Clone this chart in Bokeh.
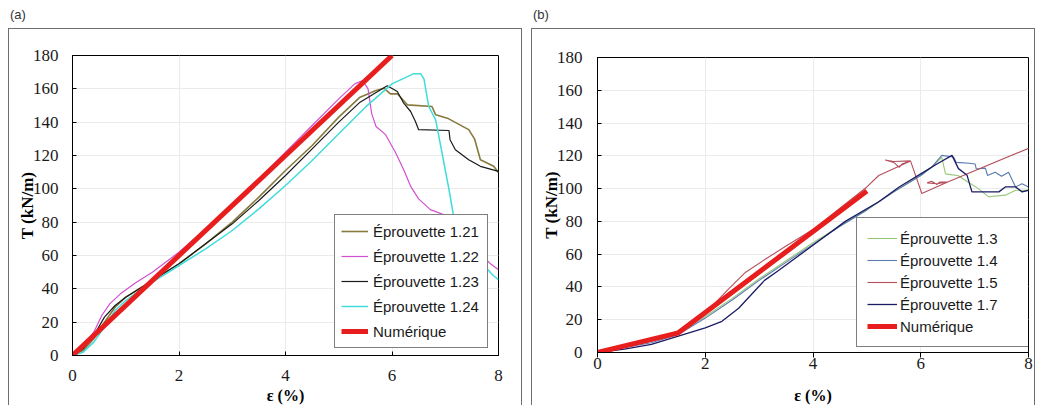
from bokeh.plotting import figure
from bokeh.models import Div, Legend, LegendItem, FixedTicker
from bokeh.layouts import row, column
from bokeh.embed import file_html
from bokeh.resources import INLINE

# ---------------- Panel (a) data ----------------
x121 = [0, 0.2, 0.4, 0.6, 0.8, 1.0, 1.3, 1.6, 2.0, 2.5, 3.0, 3.5, 4.0, 4.5, 5.0, 5.4, 5.7, 5.85, 5.97, 6.1, 6.29, 6.75, 6.82, 7.04, 7.44, 7.55, 7.66, 7.91, 8.0]
y121 = [0, 3, 10, 20, 29, 35, 41, 47, 55, 67, 80, 95, 111, 126, 143, 155, 159, 160.4, 157, 157, 150.4, 149.4, 144.4, 142.4, 135.5, 130, 117.5, 113.5, 109.7]

x122 = [0, 0.2, 0.4, 0.55, 0.7, 0.9, 1.2, 1.5, 2.0, 2.5, 3.0, 3.5, 4.0, 4.5, 5.0, 5.3, 5.45, 5.55, 5.62, 5.7, 5.88, 6.07, 6.22, 6.35, 6.5, 6.72, 6.97, 7.4, 7.85, 8.0]
y122 = [0, 5, 14, 24, 31, 37, 44, 50, 62, 76, 90, 106, 122, 138, 154, 163, 165, 160, 145, 137.4, 132.5, 121.5, 111.5, 101.5, 94, 87.5, 84.5, 70, 55, 51.5]

x123 = [0, 0.2, 0.4, 0.6, 0.8, 1.0, 1.3, 1.6, 2.0, 2.5, 3.0, 3.5, 4.0, 4.5, 5.0, 5.4, 5.91, 6.1, 6.22, 6.35, 6.44, 6.5, 7.07, 7.09, 7.19, 7.44, 7.66, 8.0]
y123 = [0, 4, 12, 23, 30, 35, 41, 47, 55, 67, 79, 93, 108, 124, 140, 152, 161.8, 158.4, 151.4, 146.4, 140.4, 135.5, 135, 129.5, 123.5, 117.5, 113.5, 110.5]

x124 = [0, 0.2, 0.4, 0.6, 0.8, 1.0, 1.3, 1.6, 2.0, 2.5, 3.0, 3.5, 4.0, 4.5, 5.0, 5.5, 6.0, 6.4, 6.54, 6.6, 6.69, 6.82, 6.94, 7.07, 7.16, 7.4, 7.7, 7.9, 8.0]
y124 = [0, 2, 8, 17, 27, 33, 40, 46, 54, 64, 75, 88, 102, 117, 133, 149, 163, 169, 169, 166, 149.4, 141.4, 121.5, 99.6, 83, 68, 55, 48, 45.5]

xnum_a = [0, 6.0]
ynum_a = [0, 180]

# ---------------- Panel (b) data ----------------
x13 = [0, 0.5, 1.0, 1.5, 2.0, 2.5, 3.0, 3.5, 4.0, 4.5, 5.0, 5.5, 6.0, 6.2, 6.39, 6.46, 6.7, 6.83, 7.07, 7.26, 7.57, 7.76, 8.0]
y13 = [0, 3, 7, 12, 22, 33, 45, 56, 67, 77, 87, 98, 108, 113, 119, 109, 107.8, 105, 100, 95, 96, 99, 99]

x14 = [0, 0.5, 1.0, 1.5, 2.0, 2.5, 3.0, 3.5, 4.0, 4.5, 5.0, 5.5, 6.0, 6.2, 6.39, 6.61, 6.66, 6.9, 7.01, 7.03, 7.2, 7.24, 7.38, 7.5, 7.63, 7.76, 7.88, 8.0]
y14 = [0, 3, 6, 11, 21, 32, 44, 55, 66, 77, 87, 98, 108, 113, 120.3, 119.3, 116, 115.5, 115, 112, 112.5, 108, 110, 107.5, 110, 101, 103, 101]

x15 = [0, 0.5, 1.0, 1.5, 2.0, 2.44, 2.75, 3.12, 3.5, 4.0, 4.5, 5.0, 5.22, 5.81, 5.5, 5.34, 5.5, 5.6, 5.65, 5.81, 6.02, 6.5, 6.3, 6.12, 6.2, 6.3, 6.35, 6.5, 8.06]
y15 = [0, 4, 8, 13, 24, 39, 49, 57, 65, 75, 88, 101, 108, 116.9, 116.5, 117.5, 116, 113, 115, 116.9, 97, 104, 103, 103.5, 104.5, 102.5, 104, 104, 125.4]

x17 = [0, 0.5, 1.0, 1.5, 2.0, 2.31, 2.62, 2.93, 3.1, 3.36, 3.98, 4.6, 5.22, 5.6, 6.0, 6.3, 6.58, 6.7, 6.86, 6.95, 7.45, 7.57, 7.76, 7.88, 8.0]
y17 = [0, 2, 5, 10, 15, 19, 27, 38, 44, 50, 65, 80, 92, 101, 109, 115, 120.3, 112.2, 108.1, 98, 98, 101, 101, 98, 99]

xnum_b = [0, 1.5, 5.0]
ynum_b = [0, 12, 98.5]

x_ticks = [0, 2, 4, 6, 8]
y_ticks = [0, 20, 40, 60, 80, 100, 120, 140, 160, 180]

SERIF = "'Liberation Serif', 'Times New Roman', serif"
SANS = "'Liberation Sans', Arial, sans-serif"


def make_fig(width, height, left, right, top, bottom,
             xt_in, xt_out, xtick_standoff, xlabel_standoff, ytick_standoff):
    p = figure(width=width, height=height, x_range=(0, 8), y_range=(0, 180),
               output_backend="svg", toolbar_location=None,
               min_border_left=left, min_border_right=right,
               min_border_top=top, min_border_bottom=bottom,
               background_fill_color="white", border_fill_color="white")
    p.margin = 0
    p.outline_line_color = "black"
    p.outline_line_width = 1
    p.xaxis.ticker = FixedTicker(ticks=x_ticks)
    p.yaxis.ticker = FixedTicker(ticks=y_ticks)
    p.xgrid.grid_line_color = "#ebebeb"
    p.ygrid.grid_line_color = "#ebebeb"
    for ax in (p.xaxis[0], p.yaxis[0]):
        ax.axis_line_color = "black"
        ax.major_tick_line_color = "black"
        ax.minor_tick_line_color = None
        ax.major_label_text_font = SERIF
        ax.major_label_text_font_size = "17px"
        ax.major_label_text_color = "#1a1a1a"
        ax.axis_label_text_font = SERIF
        ax.axis_label_text_font_style = "bold"
        ax.axis_label_text_color = "black"
    p.yaxis.major_tick_in = 4
    p.yaxis.major_tick_out = 0
    p.xaxis.major_tick_in = xt_in
    p.xaxis.major_tick_out = xt_out
    p.yaxis.axis_label = "T (kN/m)"
    p.yaxis.axis_label_text_font_size = "17px"
    p.yaxis.major_label_standoff = ytick_standoff
    p.yaxis.axis_label_standoff = -7
    p.xaxis.axis_label = "ε (%)"
    p.xaxis.axis_label_text_font_size = "16px"
    p.xaxis.major_label_standoff = xtick_standoff
    p.xaxis.axis_label_standoff = xlabel_standoff
    return p


def style_legend(lg):
    lg.border_line_color = "black"
    lg.border_line_width = 1
    lg.background_fill_color = "white"
    lg.background_fill_alpha = 1
    lg.label_text_font = SANS
    lg.label_text_font_size = "15px"
    lg.label_text_color = "#1a1a1a"
    lg.label_height = 20
    lg.glyph_height = 20
    lg.margin = 0


BORDER = {"border-top": "1px solid #6e6e6e", "border-left": "1px solid #6e6e6e",
          "border-right": "1px solid #6e6e6e"}

# ---------------- Panel (a) ----------------
pa = make_fig(514, 377, 63, 25, 26, 50, 4, 0, 14, 3, 14)
pa.styles = BORDER
ra1 = pa.line(x121, y121, line_color="#877a3e", line_width=1.6)
ra2 = pa.line(x122, y122, line_color="#d050d0", line_width=1.2)
ra3 = pa.line(x123, y123, line_color="#1a1a1a", line_width=1.2)
ra4 = pa.line(x124, y124, line_color="#40dcdc", line_width=1.5)
ra5 = pa.line(xnum_a, ynum_a, line_color="#e81e1e", line_width=5)
lga = Legend(items=[LegendItem(label="Éprouvette 1.21", renderers=[ra1]),
                    LegendItem(label="Éprouvette 1.22", renderers=[ra2]),
                    LegendItem(label="Éprouvette 1.23", renderers=[ra3]),
                    LegendItem(label="Éprouvette 1.24", renderers=[ra4]),
                    LegendItem(label="Numérique", renderers=[ra5])],
             location=(262, 7))
style_legend(lga)
lga.padding = 6
lga.spacing = 5
lga.glyph_width = 27
lga.label_standoff = 5
lga.label_width = 108
pa.add_layout(lga)

# ---------------- Panel (b) ----------------
pb = make_fig(504, 377, 65, 8, 28, 53, 0, 5, 0, 15, 15)
pb.styles = BORDER
rb1 = pb.line(x13, y13, line_color="#96c878", line_width=1.1)
rb2 = pb.line(x14, y14, line_color="#5a7ab0", line_width=1.1)
rb3 = pb.line(x15, y15, line_color="#b4505e", line_width=1.1)
rb4 = pb.line(x17, y17, line_color="#1c1c64", line_width=1.3)
rb5 = pb.line(xnum_b, ynum_b, line_color="#e81e1e", line_width=5)
lgb = Legend(items=[LegendItem(label="Éprouvette 1.3", renderers=[rb1]),
                    LegendItem(label="Éprouvette 1.4", renderers=[rb2]),
                    LegendItem(label="Éprouvette 1.5", renderers=[rb3]),
                    LegendItem(label="Éprouvette 1.7", renderers=[rb4]),
                    LegendItem(label="Numérique", renderers=[rb5])],
             location=(259, 5))
style_legend(lgb)
lgb.padding = 10
lgb.spacing = 2
lgb.glyph_width = 30
lgb.label_standoff = 3
lgb.label_width = 118
pb.add_layout(lgb)

div_style = {"font-family": "'Liberation Sans', Arial, sans-serif", "font-size": "13px",
             "color": "#333333", "line-height": "14px", "padding-left": "2px"}
da = Div(text="(a)", width=514, height=20, styles=div_style, margin=0)
db = Div(text="(b)", width=504, height=20, styles=div_style, margin=0)

layout = row(column(da, pa, spacing=0, margin=0), column(db, pb, spacing=0, margin=0),
             spacing=9, margin=(8, 0, 0, 8))

open("out.html", "w").write(file_html(layout, INLINE))
